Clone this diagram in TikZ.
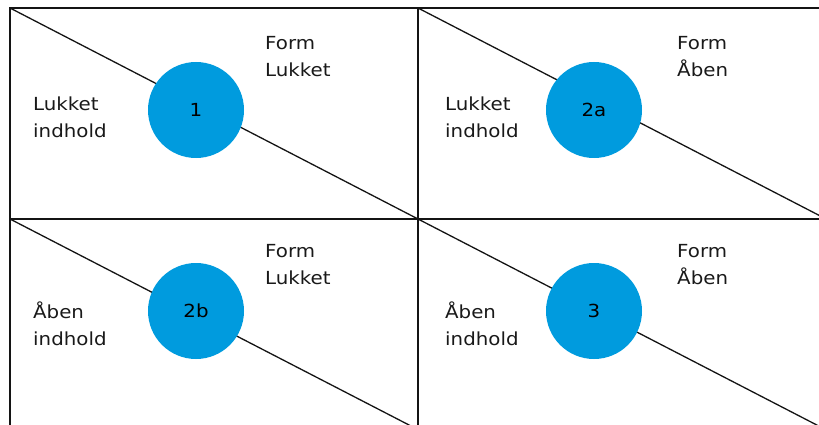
\documentclass[tikz,border=0pt]{standalone}
\usepackage{fontspec}
\setmainfont{DejaVu Sans}[FakeStretch=1.1]
\definecolor{dotblue}{RGB}{0,155,222}
\definecolor{gridline}{RGB}{20,20,20}
\begin{document}
\begin{tikzpicture}[x=1pt,y=-1pt,
  frame/.style={draw=gridline,line width=1.5pt},
  diag/.style={draw=gridline,line width=1.3pt},
  dot/.style={circle,fill=dotblue,minimum size=96pt,inner sep=0pt,font=\fontsize{18}{20}\selectfont,text=black},
  lbl/.style={anchor=base west,align=left,font=\fontsize{18}{27}\selectfont,text=black!90,inner sep=0pt}]
\useasboundingbox (0,0) rectangle (819,425);
\clip (0,0) rectangle (819,425);
% grid corners
\coordinate (tl) at (10,8);
\coordinate (tm) at (418,8);
\coordinate (tr) at (830,8);
\coordinate (ml) at (10,219);
\coordinate (mm) at (418,219);
\coordinate (mr) at (830,219);
\coordinate (bl) at (10,440);
\coordinate (bm) at (418,440);
% diagonal end points
\coordinate (d1e) at (418,219);
\coordinate (d2e) at (830,221);
\coordinate (d3e) at (440,441);
\coordinate (d4e) at (840,437);
% diagonals
\draw[diag] (tl) -- (d1e);
\draw[diag] (tm) -- (d2e);
\draw[diag] (ml) -- (d3e);
\draw[diag] (mm) -- (d4e);
% frame
\draw[frame] (tr) -- (tl) -- (bl);
\draw[frame] (tm) -- (bm);
\draw[frame] (ml) -- (mr);
% circles
\node[dot] (c1) at (196,110) {1};
\node[dot] (c2a) at (594,110) {2a};
\node[dot] (c2b) at (196,311) {2b};
\node[dot] (c3) at (594,311) {3};
% labels (anchored at the baseline of the second line)
\node[lbl] (t1a) at (33,138) {Lukket\\indhold};
\node[lbl] (t1b) at (265,77) {Form\\Lukket};
\node[lbl] (t2a) at (445,138) {Lukket\\indhold};
\node[lbl] (t2b) at (677,77) {Form\\Åben};
\node[lbl] (t3a) at (33,345) {Åben\\indhold};
\node[lbl] (t3b) at (265,284) {Form\\Lukket};
\node[lbl] (t4a) at (445,345) {Åben\\indhold};
\node[lbl] (t4b) at (677,284) {Form\\Åben};
\end{tikzpicture}
\end{document}
